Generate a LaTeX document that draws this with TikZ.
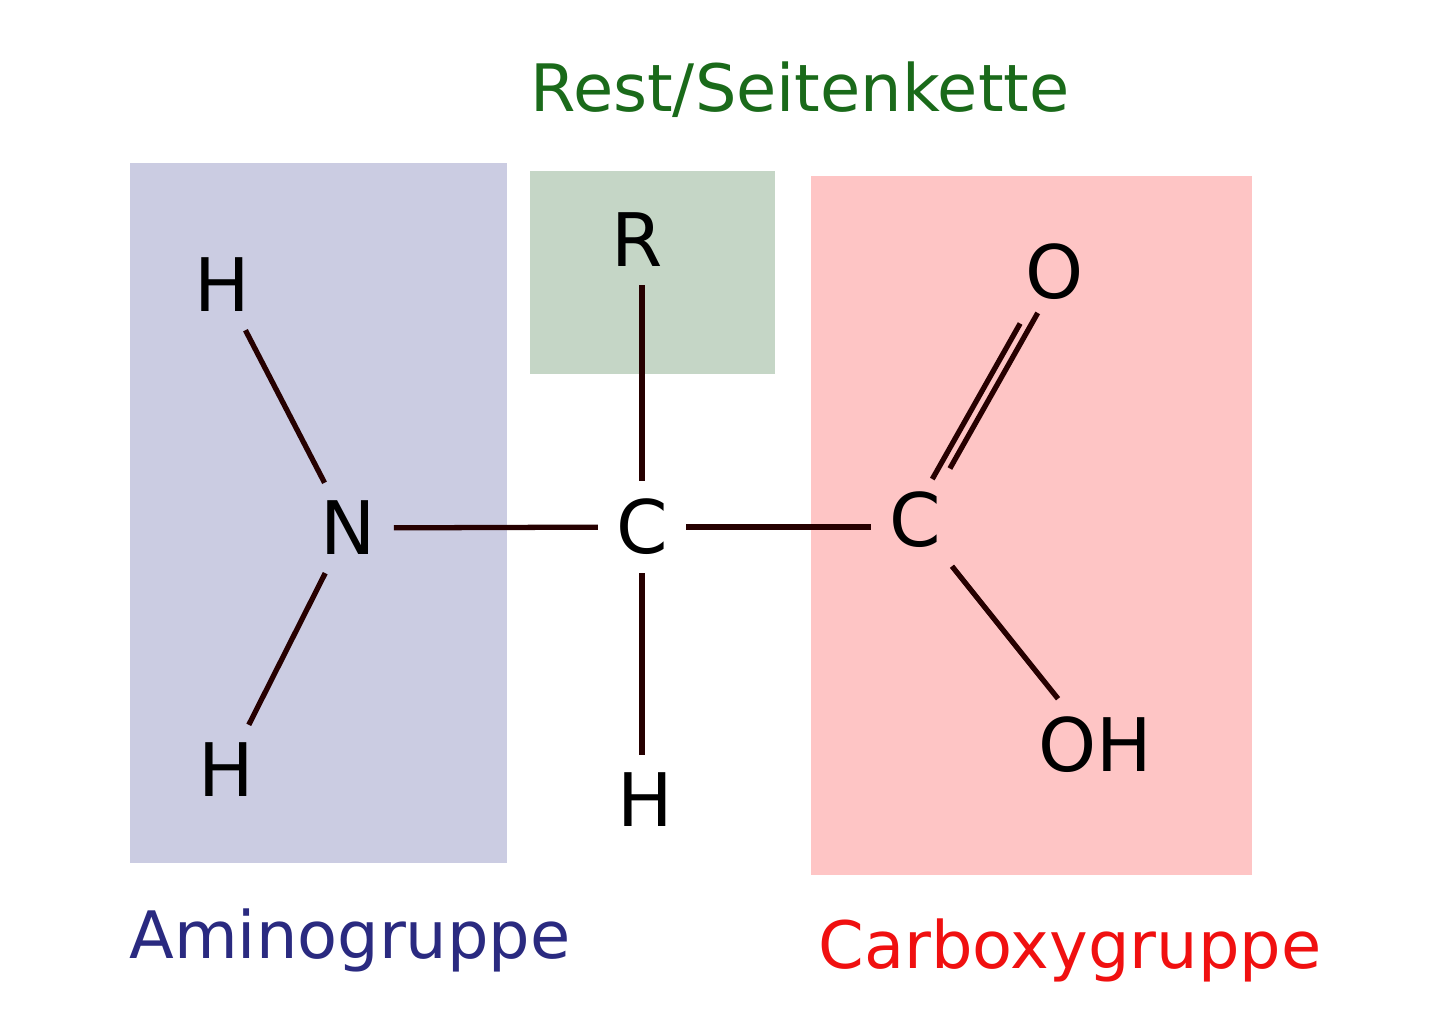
\documentclass[tikz,border=0pt]{standalone}
\usepackage{fontspec}
\setmainfont{DejaVu Sans}
\begin{document}
\begin{tikzpicture}[x=0.01cm,y=-0.01cm,
  atom/.style={font=\fontsize{21}{24}\selectfont, inner sep=5pt},
  grp/.style={font=\fontsize{18.6}{22}\selectfont, inner sep=0pt},
  bond/.style={line width=1.5pt, draw=black!85!red}]
\useasboundingbox (0,0) rectangle (1440,1019);
\fill[white] (0,0) rectangle (1440,1019);
\fill[fill={rgb,255:red,203;green,204;blue,226}] (130,163) rectangle (507,863);
\fill[fill={rgb,255:red,197;green,214;blue,198}] (530,171) rectangle (775,374);
\fill[fill={rgb,255:red,254;green,197;blue,197}] (811,176) rectangle (1252,875);
\node[grp, text={rgb,255:red,26;green,106;blue,26}] (rest) at (800,90) {Rest/Seitenkette};
\node[grp, text={rgb,255:red,42;green,42;blue,128}] (amino) at (350,940) {Aminogruppe};
\node[grp, text={rgb,255:red,240;green,16;blue,16}] (carb) at (1070,950) {Carboxygruppe};
\node[atom] (H1) at (222,285) {H};
\node[atom] (N) at (348,528) {N};
\node[atom] (H2) at (226,770) {H};
\node[atom] (C) at (642,527) {C};
\node[atom] (R) at (637,240) {R};
\node[atom] (H3) at (645,800) {H};
\node[atom] (C2) at (915,520) {C};
\node[atom] (O) at (1055,272) {O};
\node[atom] (OH) at (1095,745) {OH};
\draw[bond] (H1) -- (N);
\draw[bond] (N) -- (C);
\draw[bond] (N) -- (H2);
\draw[bond] (C.east) -- (C.east -| C2.west);
\draw[bond] (R.south -| C) -- (C);
\draw[bond] (C) -- (H3.north -| C);
\draw[bond] (C2) -- (OH);
\draw[bond, transform canvas={xshift=-2.5pt,yshift=-1.5pt}] (C2) -- (O);
\draw[bond, transform canvas={xshift=2.5pt,yshift=1.5pt}] (C2) -- (O);
\end{tikzpicture}
\end{document}
